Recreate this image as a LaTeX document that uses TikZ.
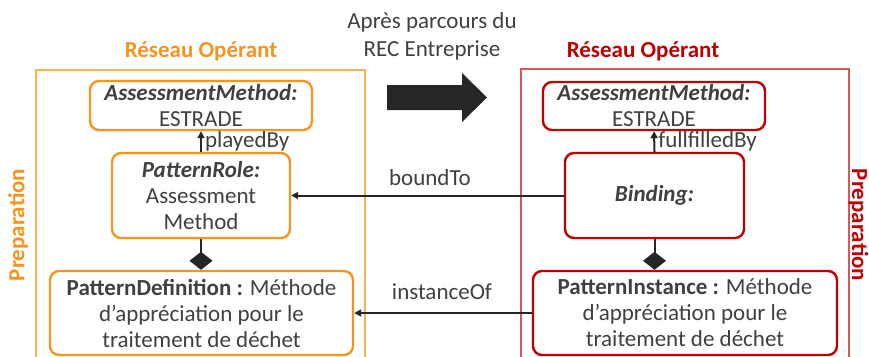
\documentclass[tikz,border=0pt]{standalone}
\usepackage{fontspec}
\setmainfont{Carlito}
\usetikzlibrary{arrows.meta}
\definecolor{orng}{HTML}{F7941D}
\definecolor{rred}{HTML}{C00000}
\definecolor{txt}{HTML}{404040}
\definecolor{dark}{HTML}{262626}
\begin{document}
\begin{tikzpicture}[x=1pt,y=-1pt,
  box/.style={draw, line width=2.4pt, rounded corners=9pt, align=center, text=txt,
    font=\fontsize{23}{26}\selectfont, inner sep=0pt},
  obox/.style={box, draw=orng},
  rbox/.style={box, draw=rred},
  conn/.style={draw=dark, line width=2pt},
  tri/.style={conn, -{Triangle[length=7pt,width=7pt]}},
  comp/.style={conn, -{Diamond[length=18pt,width=23pt]}},
  lbl/.style={text=txt, font=\fontsize{23}{28}\selectfont, inner sep=0pt},
  ttl/.style={font=\bfseries\fontsize{23}{26}\selectfont, inner sep=0pt},
  frame/.style={line width=1.1pt}
]
\useasboundingbox (0,0) rectangle (869,356);
% frames
\draw[frame, draw=orng!75] (36,357) -- (36,70) -- (365,70) -- (365,357);
\draw[frame, draw=rred!65] (521,357) -- (521,69) -- (849,69) -- (849,357);
% titles
\node[ttl, text=orng] (tl) at (201,51) {Réseau Opérant};
\node[ttl, text=rred] (tr) at (643,51) {Réseau Opérant};
\node[ttl, text=orng, rotate=90] (pl) at (18,225) {Preparation};
\node[ttl, text=rred, rotate=-90] (pr) at (858.5,225) {Preparation};
\node[lbl, align=center] (top) at (432,36) {Après parcours du\\REC Entreprise};
% big arrow
\fill[dark] (387,85) -- (462,85) -- (462,73) -- (487,97.5) -- (462,122) -- (462,110) -- (387,110) -- cycle;
% left boxes
\node[obox, minimum width=222pt, minimum height=49pt] (lam) at (201,105.5)
  {\textbf{\textit{AssessmentMethod:}}\\ESTRADE};
\node[obox, minimum width=178pt, minimum height=85pt] (prole) at (201,195.5)
  {\textbf{\textit{PatternRole:}}\\Assessment\\Method};
\node[obox, minimum width=303pt, minimum height=84pt] (pdef) at (201.5,313)
  {\textbf{PatternDefinition :} Méthode\\d’appréciation pour le\\traitement de déchet};
% right boxes
\node[rbox, minimum width=222pt, minimum height=48pt] (ram) at (654,106)
  {\textbf{\textit{AssessmentMethod:}}\\ESTRADE};
\node[rbox, minimum width=179pt, minimum height=85pt] (bind) at (654.5,195.5)
  {\textbf{\textit{Binding:}}};
\node[rbox, minimum width=304pt, minimum height=84pt] (pinst) at (685,313)
  {\textbf{PatternInstance :} Méthode\\d’appréciation pour le\\traitement de déchet};
% connectors
\draw[tri] (prole.north) -- (lam.south) node[lbl, pos=0.5, anchor=west, xshift=3pt] (lpb) {playedBy};
\draw[tri] (bind.north) -- (ram.south) node[lbl, pos=0.5, anchor=west, xshift=3pt] (lfb) {fullfilledBy};
\draw[comp] (prole.south) -- (pdef.north -| prole.south);
\draw[comp] (bind.south) -- (pinst.north -| bind.south);
\draw[tri] (bind.west) -- (prole.east);
\node[lbl] (lbt) at (430,178) {boundTo};
\draw[tri] (pinst.west) -- (pdef.east);
\node[lbl] (lio) at (442,292) {instanceOf};
\end{tikzpicture}
\end{document}
